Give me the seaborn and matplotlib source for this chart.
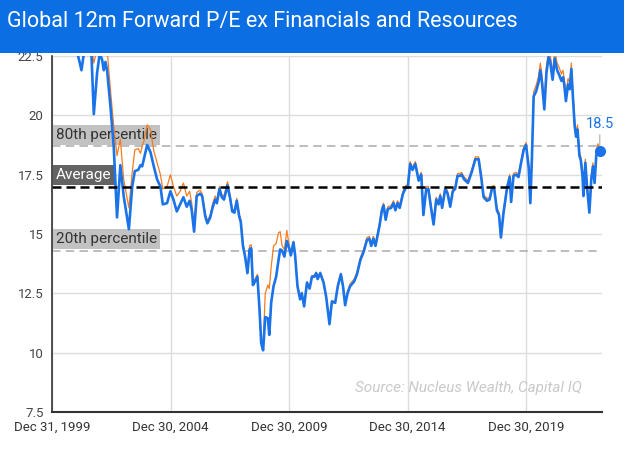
import numpy as np
import pandas as pd
import seaborn as sns
from matplotlib import pyplot as plt
from matplotlib.patches import Rectangle

# Values (decimal year, P/E)
years = [
    2000.00, 2000.30, 2000.60, 2000.90, 2001.10, 2001.24, 2001.34, 2001.50, 2001.66, 2001.76,
    2001.90, 2002.01, 2002.11, 2002.18, 2002.25, 2002.32, 2002.46, 2002.60, 2002.74, 2002.88,
    2003.02, 2003.24, 2003.38, 2003.49, 2003.63, 2003.73, 2003.80, 2003.87, 2004.01, 2004.15,
    2004.29, 2004.43, 2004.57, 2004.67, 2004.85, 2004.99, 2005.12, 2005.26, 2005.40, 2005.54,
    2005.68, 2005.80, 2005.89, 2005.99, 2006.10, 2006.24, 2006.33, 2006.46, 2006.55, 2006.67,
    2006.78, 2006.88, 2006.95, 2007.06, 2007.16, 2007.25, 2007.40, 2007.51, 2007.60, 2007.69,
    2007.79, 2007.89, 2007.96, 2008.05, 2008.14, 2008.24, 2008.33, 2008.40, 2008.47, 2008.56,
    2008.66, 2008.75, 2008.82, 2008.90, 2008.99, 2009.10, 2009.16, 2009.24, 2009.34, 2009.45,
    2009.55, 2009.62, 2009.70, 2009.80, 2009.90, 2010.00, 2010.07, 2010.18, 2010.25, 2010.35,
    2010.46, 2010.53, 2010.63, 2010.75, 2010.86, 2010.96, 2011.06, 2011.14, 2011.20, 2011.31,
    2011.45, 2011.56, 2011.70, 2011.80, 2011.94, 2012.05, 2012.18, 2012.27, 2012.36, 2012.46,
    2012.57, 2012.74, 2012.86, 2013.00, 2013.14, 2013.28, 2013.38, 2013.46, 2013.55, 2013.64,
    2013.81, 2013.91, 2013.98, 2014.07, 2014.16, 2014.30, 2014.40, 2014.48, 2014.57, 2014.66,
    2014.80, 2014.92, 2015.00, 2015.10, 2015.20, 2015.32, 2015.46, 2015.57, 2015.66, 2015.78,
    2015.87, 2015.99, 2016.09, 2016.20, 2016.30, 2016.37, 2016.45, 2016.58, 2016.68, 2016.79,
    2016.90, 2017.00, 2017.10, 2017.20, 2017.27, 2017.38, 2017.54, 2017.71, 2017.85, 2017.99,
    2018.09, 2018.20, 2018.34, 2018.45, 2018.55, 2018.64, 2018.76, 2018.85, 2018.93, 2019.04,
    2019.19, 2019.30, 2019.36, 2019.46, 2019.57, 2019.67, 2019.78, 2019.89, 2019.99, 2020.10,
    2020.17, 2020.24, 2020.31, 2020.41, 2020.52, 2020.59, 2020.66, 2020.76, 2020.85, 2020.94,
    2021.00, 2021.11, 2021.20, 2021.30, 2021.39, 2021.48, 2021.55, 2021.60, 2021.67, 2021.76,
    2021.83, 2021.90, 2021.97, 2022.04, 2022.10, 2022.16, 2022.24, 2022.30, 2022.37, 2022.41,
    2022.49, 2022.56, 2022.66, 2022.74, 2022.81, 2022.88, 2022.95, 2023.02, 2023.10,
]

pe_blue = [
    26.0, 27.5, 26.0, 24.5, 22.5, 21.9, 22.6, 23.2, 22.6, 20.05,
    21.8, 22.6, 22.35, 21.9, 22.25, 21.9, 20.4, 18.7, 15.7, 17.9,
    16.6, 15.2, 17.0, 17.65, 17.7, 17.9, 17.85, 18.15, 18.75, 18.45,
    17.85, 17.3, 17.0, 16.25, 16.3, 16.8, 16.45, 15.95, 16.25, 16.55,
    16.15, 16.4, 16.0, 15.1, 16.6, 16.7, 16.6, 15.75, 15.45, 15.7,
    16.15, 16.45, 16.3, 16.9, 16.55, 16.45, 17.05, 16.5, 15.95, 15.9,
    16.4, 15.75, 15.5, 14.5, 14.05, 13.35, 14.35, 14.4, 12.85, 13.0,
    13.2, 11.8, 10.4, 10.1, 11.5, 11.45, 10.75, 12.1, 12.8, 13.2,
    13.9, 14.35, 14.3, 14.05, 14.7, 14.4, 14.1, 14.65, 14.1, 12.8,
    12.25, 12.5, 11.95, 12.95, 12.7, 13.2, 13.2, 13.35, 13.1, 13.35,
    12.95, 12.35, 11.2, 12.15, 12.1, 12.8, 13.3, 12.8, 12.0, 12.5,
    12.8, 13.0, 13.3, 13.9, 14.25, 14.75, 14.8, 14.5, 14.8, 14.5,
    15.35, 16.0, 16.2, 15.6, 16.05, 16.1, 16.3, 16.0, 16.3, 16.1,
    16.7, 16.95, 16.95, 17.95, 17.7, 17.95, 17.25, 17.5, 15.8, 16.9,
    16.9, 16.05, 15.4, 16.45, 16.25, 16.6, 16.1, 16.9, 16.7, 16.15,
    16.8, 16.9, 17.45, 17.45, 17.5, 17.3, 17.15, 17.65, 18.15, 18.15,
    17.45, 16.55, 16.4, 16.45, 16.9, 16.95, 16.0, 15.8, 14.85, 15.9,
    16.95, 17.4, 16.35, 17.45, 17.5, 17.4, 18.0, 18.55, 18.75, 17.8,
    16.3, 18.3, 20.8, 21.0, 21.4, 21.9, 21.4, 20.25, 21.8, 22.45,
    22.3, 21.5, 22.4, 21.9, 21.7, 21.45, 21.6, 21.3, 20.6, 21.3,
    21.1, 21.95, 20.7, 19.55, 19.1, 19.4, 18.3, 18.1, 17.45, 16.6,
    18.0, 17.0, 15.9, 17.3, 17.85, 17.15, 18.3, 18.5, 18.5,
]

pe_orange = [
    26.5, 28.0, 26.5, 25.0, 23.0, 22.6, 23.2, 23.8, 23.0, 22.2,
    22.8, 23.2, 23.0, 22.8, 23.0, 22.8, 21.1, 19.55, 18.3, 19.0,
    17.3, 16.1, 17.6, 18.55, 18.6, 18.4, 18.7, 18.9, 19.6, 19.4,
    18.5, 18.0, 17.5, 16.9, 17.0, 17.5, 17.0, 16.6, 16.8, 17.15,
    16.6, 16.8, 16.3, 15.3, 16.75, 16.85, 16.7, 15.85, 15.55, 15.8,
    16.3, 16.6, 16.4, 17.0, 16.65, 16.6, 17.2, 16.6, 16.05, 16.0,
    16.5, 15.85, 15.6, 14.6, 14.15, 13.45, 14.5, 14.55, 12.95, 13.1,
    13.3, 11.9, 10.5, 10.2, 12.5, 12.85, 12.7, 13.6, 14.5, 14.6,
    15.05, 15.1, 14.5, 14.35, 15.15, 14.5, 14.15, 14.7, 14.15, 12.85,
    12.3, 12.55, 12.0, 13.0, 12.75, 13.25, 13.25, 13.4, 13.15, 13.4,
    13.0, 12.4, 11.25, 12.2, 12.15, 12.85, 13.35, 12.85, 12.05, 12.6,
    12.9, 13.1, 13.4, 14.0, 14.35, 14.85, 14.9, 14.6, 14.9, 14.6,
    15.45, 16.1, 16.3, 15.7, 16.15, 16.2, 16.4, 16.1, 16.4, 16.2,
    16.8, 17.05, 17.05, 18.05, 17.8, 18.05, 17.35, 17.6, 15.9, 17.0,
    17.0, 16.15, 15.5, 16.55, 16.35, 16.7, 16.2, 17.0, 16.8, 16.25,
    16.9, 17.0, 17.55, 17.55, 17.6, 17.4, 17.25, 17.75, 18.25, 18.25,
    17.55, 16.65, 16.5, 16.55, 17.0, 17.05, 16.1, 15.9, 14.95, 16.0,
    17.05, 17.5, 16.45, 17.55, 17.6, 17.5, 18.1, 18.65, 18.85, 17.9,
    16.4, 18.4, 21.0, 21.25, 21.65, 22.2, 21.7, 20.5, 22.1, 22.7,
    22.6, 21.8, 22.7, 22.2, 22.0, 21.75, 21.9, 21.55, 20.85, 21.55,
    21.35, 22.2, 20.9, 19.75, 19.3, 19.6, 18.45, 18.25, 17.6, 16.7,
    18.15, 17.1, 16.0, 17.4, 18.0, 17.25, 18.45, 18.8, 18.6,
]

average = 17.0
pct_80 = 18.7
pct_20 = 14.3

tick_dates = ["1999-12-31", "2004-12-30", "2009-12-30", "2014-12-30", "2019-12-30"]
y_ticks = [7.5, 10, 12.5, 15, 17.5, 20, 22.5]

title = "Global 12m Forward P/E ex Financials and Resources"
source = "Source: Nucleus Wealth, Capital IQ"

assert len(years) == len(pe_blue) == len(pe_orange)

# decimal years -> dates
dates = pd.Timestamp("2000-01-01") + pd.to_timedelta((np.array(years) - 2000) * 365.25, unit="D")
df = pd.DataFrame({"date": dates, "blue": pe_blue, "orange": pe_orange})

BLUE = "#1a73e8"
ORANGE = "#f57c1f"
BAR = "#0b6fe3"

sns.set_theme(style="whitegrid")
plt.rcParams["font.family"] = ["Roboto", "DejaVu Sans"]

fig = plt.figure(figsize=(6.24, 4.59), dpi=100)
ax = fig.add_axes([52 / 624, 1 - 412 / 459, 550 / 624, 356 / 459])

sns.lineplot(data=df, x="date", y="orange", color=ORANGE, linewidth=0.9, ax=ax, zorder=3)
sns.lineplot(data=df, x="date", y="blue", color=BLUE, linewidth=1.9, ax=ax, zorder=4)

# reference lines
ax.axhline(average, color="black", linewidth=1.8, dashes=(3.6, 2.0), zorder=5)
for v in (pct_80, pct_20):
    ax.axhline(v, color="#ababab", linewidth=1.1, dashes=(5.5, 3.5), zorder=2)

label_kw = dict(xycoords=("axes fraction", "data"), textcoords="offset points",
                ha="left", va="bottom", fontsize=11, zorder=1.5)
ax.annotate("80th percentile", xy=(0, pct_80), xytext=(3, 3.2), color="#333333",
            bbox=dict(boxstyle="square,pad=0.2", fc="#c2c2c2", ec="none"), **label_kw)
ax.annotate("20th percentile", xy=(0, pct_20), xytext=(3, 3.2), color="#333333",
            bbox=dict(boxstyle="square,pad=0.2", fc="#c2c2c2", ec="none"), **label_kw)
ax.annotate("Average", xy=(0, average), xytext=(3, 3.2), color="white",
            bbox=dict(boxstyle="square,pad=0.2", fc="#636363", ec="none"), **label_kw)

# last value marker and label
last_date, last_val = df["date"].iloc[-1], df["blue"].iloc[-1]
ax.plot([last_date], [last_val], "o", color=BLUE, markersize=7, zorder=6, clip_on=False)
ax.annotate(f"{last_val:.1f}", xy=(last_date, last_val), xytext=(0, 14),
            textcoords="offset points", ha="center", va="bottom", color=BLUE, fontsize=10.5,
            arrowprops=dict(arrowstyle="-", color="#9e9e9e", lw=0.7, shrinkA=0, shrinkB=4))

ax.text(0.9636, 0.068, source, transform=ax.transAxes, ha="right", va="center",
        fontsize=11, style="italic", color="#c9c9c9")

# axes styling
ax.set_ylim(7.5, 22.5)
ax.set_yticks(y_ticks)
ax.set_yticklabels([f"{t:g}" for t in y_ticks])
ticks = pd.to_datetime(tick_dates)
ax.set_xlim(pd.Timestamp("1999-12-31"), pd.Timestamp("2023-03-12"))
ax.set_xticks(ticks)
ax.set_xticklabels([t.strftime("%b %d, %Y") for t in ticks])
ax.set_xlabel("")
ax.set_ylabel("")
ax.tick_params(axis="y", labelsize=9.5, labelcolor="#444444", length=0, pad=6)
ax.tick_params(axis="x", labelsize=9.5, labelcolor="#333333", length=0, pad=6)
ax.grid(True, color="#dcdcdc", linewidth=1.0)
ax.set_facecolor("white")
for side in ("top", "right"):
    ax.spines[side].set_visible(False)
ax.spines["left"].set_color("#222222")
ax.spines["left"].set_linewidth(1.1)
ax.spines["bottom"].set_color("#333333")
ax.spines["bottom"].set_linewidth(1.5)
ax.spines["left"].set_zorder(7)
ax.spines["bottom"].set_zorder(7)

# title bar
fig.add_artist(Rectangle((0, 1 - 53 / 459), 1, 53 / 459, transform=fig.transFigure,
                         facecolor=BAR, edgecolor="none", zorder=10))
fig.text(7 / 624, 1 - 22 / 459, title, color="white", fontsize=15.5,
         ha="left", va="center", zorder=11)

fig.savefig("out.png", dpi=100, facecolor="white")
